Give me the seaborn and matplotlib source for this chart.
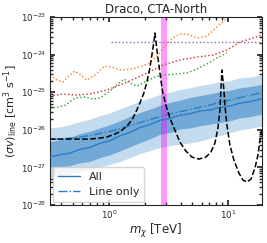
import numpy as np
import pandas as pd
import matplotlib
matplotlib.use("Agg")
import matplotlib.pyplot as plt
import seaborn as sns

sns.set_theme(style="ticks", rc={
    "xtick.direction": "in", "ytick.direction": "in",
    "xtick.top": True, "ytick.right": True,
    "xtick.minor.visible": True, "ytick.minor.visible": True,
    "xtick.major.size": 3.5, "ytick.major.size": 3.5,
    "xtick.minor.size": 2, "ytick.minor.size": 2,
    "axes.linewidth": 0.8,
})
plt.rcParams["font.family"] = ["DejaVu Sans"]

# mass grid for the sensitivity bands [TeV]
m_band = [0.32, 0.39, 0.47, 0.57, 0.69, 0.84, 1.02, 1.24, 1.50, 1.82, 2.21,
          2.68, 3.26, 3.95, 4.80, 5.82, 7.06, 8.57, 10.4, 12.6, 15.3, 19.3]
# log10 <sigma v> values
all_med = [-26.72, -26.66, -26.62, -26.52, -26.47, -26.36, -26.29, -26.16, -26.07, -25.94, -25.86,
           -25.75, -25.70, -25.61, -25.57, -25.50, -25.47, -25.40, -25.37, -25.29, -25.25, -25.17]
line_only = [-26.26, -26.24, -26.22, -26.19, -26.15, -26.10, -26.04, -25.97, -25.89, -25.81, -25.73,
             -25.65, -25.58, -25.52, -25.46, -25.40, -25.34, -25.27, -25.21, -25.14, -25.08, -25.01]
sig1_hi = [-26.32, -26.26, -26.20, -26.10, -26.04, -25.95, -25.86, -25.76, -25.64, -25.54, -25.45,
           -25.35, -25.27, -25.21, -25.14, -25.09, -25.04, -24.98, -24.95, -24.88, -24.85, -24.79]
sig1_lo = [-26.98, -26.98, -26.95, -26.88, -26.84, -26.74, -26.66, -26.56, -26.45, -26.34, -26.24,
           -26.12, -26.07, -25.98, -25.95, -25.89, -25.85, -25.80, -25.76, -25.68, -25.65, -25.58]
sig2_hi = [-25.95, -25.92, -25.86, -25.78, -25.72, -25.62, -25.55, -25.44, -25.34, -25.24, -25.15,
           -25.06, -25.00, -24.93, -24.88, -24.82, -24.78, -24.72, -24.69, -24.62, -24.60, -24.53]
sig2_lo = [-27.25, -27.22, -27.18, -27.12, -27.05, -26.98, -26.92, -26.84, -26.74, -26.63, -26.55,
           -26.47, -26.42, -26.38, -26.35, -26.30, -26.22, -26.15, -26.08, -26.00, -25.96, -25.90]

# wino-like theory curve (black dashed)
m_th = [0.319, 0.470, 0.692, 0.840, 0.962, 1.123, 1.261, 1.417, 1.561, 1.686, 1.822, 1.968, 2.086,
        2.211, 2.298, 2.389, 2.436, 2.483, 2.532, 2.632, 2.735, 2.843, 3.013, 3.255, 3.586, 3.951,
        4.437, 4.984, 5.705, 6.534, 7.196, 7.778, 8.241, 8.566, 8.734, 8.905, 9.256, 9.437, 9.808,
        10.39, 11.23, 12.37, 13.37, 14.44, 15.61, 16.86, 17.87, 18.57, 19.31]
sv_th = [-26.245, -26.245, -26.245, -26.218, -26.191, -26.112, -26.032, -25.899, -25.739, -25.527,
         -25.287, -25.021, -24.729, -24.356, -24.011, -23.665, -23.426, -23.612, -23.878, -24.277,
         -24.676, -25.021, -25.340, -25.686, -26.005, -26.324, -26.564, -26.723, -26.777, -26.723,
         -26.590, -26.351, -25.952, -25.473, -24.941, -24.410, -24.941, -25.340, -25.872, -26.404,
         -26.803, -27.149, -27.335, -27.388, -27.309, -27.016, -26.670, -26.271, -25.952]

# other limits (dotted)
m_orange = [0.319, 0.366, 0.411, 0.461, 0.518, 0.582, 0.653, 0.763, 0.926, 1.060, 1.237, 1.59,
            1.894, 2.21, 2.58, 2.955, 3.45, 3.95, 4.52, 5.49, 6.66, 8.09, 9.26, 10.0]
sv_orange = [-24.543, -24.676, -24.729, -24.569, -24.436, -24.543, -24.676, -24.543, -24.303,
             -24.330, -24.410, -24.383, -24.303, -24.223, -24.011, -23.771, -23.559, -23.452,
             -23.452, -23.559, -23.505, -23.266, -23.106, -23.0]
m_green = [0.319, 0.373, 0.435, 0.518, 0.629, 0.734, 0.840, 1.020, 1.190, 1.337, 1.501, 1.719,
           2.006, 2.436, 2.843, 3.586, 4.52, 5.49, 6.66, 8.09, 9.81]
sv_green = [-25.420, -25.394, -25.340, -25.154, -25.128, -25.181, -25.154, -24.968, -24.782,
            -24.649, -24.755, -24.835, -24.729, -24.596, -24.543, -24.516, -24.489, -24.383,
            -24.250, -24.090, -23.957]
m_red = [0.319, 0.411, 0.538, 0.692, 0.962, 1.237, 1.561, 2.086, 2.843, 3.951, 5.49, 7.48, 9.81,
         12.61, 16.22, 19.31]
sv_red = [-25.101, -25.048, -25.074, -25.048, -24.941, -24.809, -24.676, -24.489, -24.277, -24.144,
          -24.064, -24.011, -23.878, -23.665, -23.559, -23.479]
m_purple = [1.04, 19.31]
sv_purple = [-23.665, -23.665]

band_lo, band_hi = 2.73, 3.07
yticks = [1e-28, 1e-27, 1e-26, 1e-25, 1e-24, 1e-23]
xticks = [1, 10]

m = np.array(m_band)
fig, ax = plt.subplots(figsize=(2.67, 2.43), dpi=100)
fig.subplots_adjust(left=0.187, right=0.981, bottom=0.156, top=0.930)

ax.fill_between(m, 10**np.array(sig2_lo), 10**np.array(sig2_hi), color="#c3dbee", lw=0, zorder=1)
ax.fill_between(m, 10**np.array(sig1_lo), 10**np.array(sig1_hi), color="#72a9d6", lw=0, zorder=1.5)

df_band = pd.DataFrame({"m": m, "all": 10**np.array(all_med), "line": 10**np.array(line_only)})
sns.lineplot(data=df_band, x="m", y="all", color="#2b7dc4", lw=1.0, ax=ax, label="All", zorder=3)
sns.lineplot(data=df_band, x="m", y="line", color="#2b7dc4", lw=1.0, ls="-.", ax=ax,
             label="Line only", zorder=3)

for mm, sv, c in [(m_orange, sv_orange, "tab:orange"), (m_green, sv_green, "tab:green"),
                  (m_red, sv_red, "tab:red"), (m_purple, sv_purple, "tab:purple")]:
    ax.plot(mm, 10**np.array(sv), ls=":", lw=1.0, color=c, zorder=2.5)

ax.axvspan(band_lo, band_hi, color="magenta", alpha=0.4, lw=0, zorder=2)

ax.plot(m_th, 10**np.array(sv_th), ls="--", color="black", lw=1.1, zorder=4)

ax.set_xscale("log")
ax.set_yscale("log")
ax.set_xlim(0.32, 19.3)
ax.set_ylim(1e-28, 1e-23)
ax.set_yticks(yticks)
ax.set_xticks(xticks)
ax.tick_params(labelsize=6.2, pad=2.5)
ax.set_xlabel(r"$m_\chi$ [TeV]", fontsize=8.5, labelpad=1)
ax.set_ylabel(r"$(\sigma v)_{\rm line}$ [cm$^3$ s$^{-1}$]", fontsize=8)
ax.yaxis.set_label_coords(-0.14, 0.5)
ax.set_title("Draco, CTA-North", fontsize=8.5, pad=3)
ax.legend(loc="lower left", fontsize=8, handlelength=2.0, borderaxespad=0.3, frameon=True)

fig.savefig("out.png", dpi=100)
